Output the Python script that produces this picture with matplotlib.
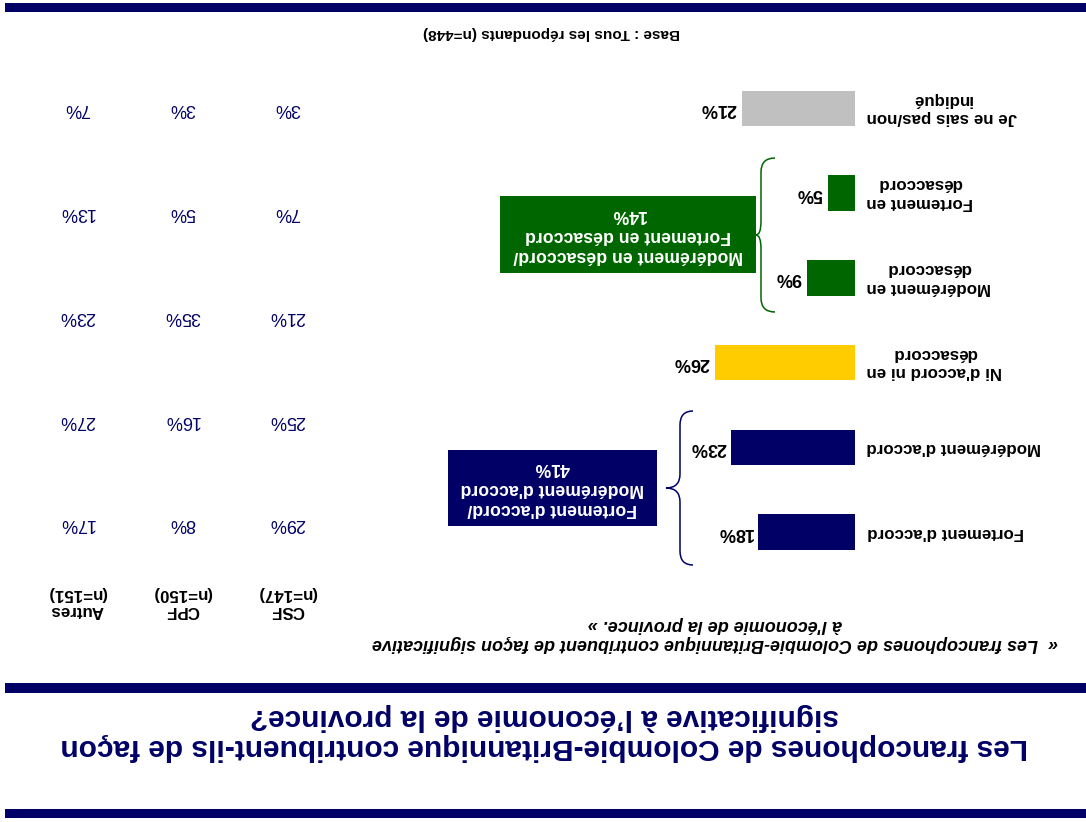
import matplotlib
matplotlib.use("Agg")
import matplotlib.pyplot as plt
from matplotlib.patches import Rectangle, PathPatch
from matplotlib.path import Path

plt.rcParams['font.family'] = ['Liberation Sans', 'DejaVu Sans']

# the slide is stored upside down, so everything is drawn rotated 180 degrees
NAVY = '#000066'
GREEN = '#006600'
YELLOW = '#FFCC00'
GREY = '#C0C0C0'

title = "Les francophones de Colombie-Britannique contribuent-ils de façon\nsignificative à l’économie de la province?"
subtitle = "«  Les francophones de Colombie-Britannique contribuent de façon significative\nà l'économie de la province. »"
base_note = "Base : Tous les répondants (n=448)"

categories = ["Fortement d'accord", "Modérément d'accord", "Ni d'accord ni en\ndésaccord",
              "Modérément en\ndésaccord", "Fortement en\ndésaccord", "Je ne sais pas/non\nindiqué"]
values = [18, 23, 26, 9, 5, 21]
bar_colors = [NAVY, NAVY, YELLOW, GREEN, GREEN, GREY]

groups = ["CSF\n(n=147)", "CPF\n(n=150)", "Autres\n(n=151)"]
csf = [29, 25, 21, 7, 3]
cpf = [8, 16, 35, 5, 3]
autres = [17, 27, 23, 13, 7]

W, H = 1086, 822
fig = plt.figure(figsize=(W / 100, H / 100), dpi=100)

# overlay in pixel coords (y down) for the slide furniture
ov = fig.add_axes([0, 0, 1, 1])
ov.set_xlim(0, W)
ov.set_ylim(H, 0)
ov.axis('off')

# 1. rules
for y0, h in [(3, 9), (683, 10), (809, 9)]:
    ov.add_patch(Rectangle((5, y0), W - 5, h, color=NAVY, lw=0))

# 2. title / subtitle / base
ov.text(544, 732, title, rotation=180, ha='center', va='center', multialignment='center',
        fontsize=21.5, fontweight='bold', color=NAVY, linespacing=1.05)
ov.text(715, 634, subtitle, rotation=180, ha='center', va='center', multialignment='center',
        fontsize=13, fontweight='bold', fontstyle='italic', color='black', linespacing=1.2)
ov.text(552, 33, base_note, rotation=180, ha='center', va='center',
        fontsize=11, fontweight='bold', color='black')

# 3. bars
px = 5.38
x0 = 855
step = 84.7
yc0 = 532
ax = fig.add_axes([(x0 - 30 * px) / W, 1 - (yc0 + step / 2) / H,
                   30 * px / W, 6 * step / H])
ax.set_xlim(30, 0)
ax.set_ylim(-0.5, 5.5)
ax.axis('off')
ypos = list(range(len(values)))
ax.barh(ypos, values, height=0.42, color=bar_colors)
for y, v, c in zip(ypos, values, categories):
    ax.text(v + 1.0, y, f"{v}%", rotation=180, ha='right', va='center',
            fontsize=13, fontweight='bold', color='black', clip_on=False)
    ax.text(-2.2, y, c, rotation=180, ha='left', va='center', multialignment='center',
            fontsize=12.2, fontweight='bold', color='black', linespacing=1.3, clip_on=False)

# 4. braces + summary boxes
def brace(x_line, x_arm, x_tip, y0, y1, color):
    ym = (y0 + y1) / 2
    r = 14
    verts = [(x_arm, y0), (x_line, y0), (x_line, y0 + r),
             (x_line, ym - r), (x_line, ym), (x_tip, ym),
             (x_line, ym), (x_line, ym + r),
             (x_line, y1 - r), (x_line, y1), (x_arm, y1)]
    codes = [Path.MOVETO, Path.CURVE3, Path.CURVE3, Path.LINETO, Path.CURVE3, Path.CURVE3,
             Path.CURVE3, Path.CURVE3, Path.LINETO, Path.CURVE3, Path.CURVE3]
    ov.add_patch(PathPatch(Path(verts, codes), fc='none', ec=color, lw=1.1))

brace(680, 693, 666, 411, 565, NAVY)
brace(761, 775, 756, 158, 312, GREEN)

agree = values[0] + values[1]
disagree = values[3] + values[4]
ov.add_patch(Rectangle((448, 450), 209, 76, color=NAVY, lw=0))
ov.text(552, 488, f"Fortement d'accord/\nModérément d'accord\n{agree}%", rotation=180,
        ha='center', va='center', multialignment='center', fontsize=12.7,
        fontweight='bold', color='white', linespacing=1.3)
ov.add_patch(Rectangle((500, 196), 256, 77, color=GREEN, lw=0))
ov.text(628, 235, f"Modérément en désaccord/\nFortement en désaccord\n{disagree}%", rotation=180,
        ha='center', va='center', multialignment='center', fontsize=12.7,
        fontweight='bold', color='white', linespacing=1.3)

# 5. table by group
col_x = [287, 182, 77]
row_y = [523, 420, 316, 212, 109]
for cx, g, col in zip(col_x, groups, [csf, cpf, autres]):
    ov.text(cx, 602, g, rotation=180, ha='center', va='center', multialignment='center',
            fontsize=12.2, fontweight='bold', color='black', linespacing=1.15)
    for ry, v in zip(row_y, col):
        ov.text(cx, ry, f"{v}%", rotation=180, ha='center', va='center',
                fontsize=13, color=NAVY)

fig.savefig("out.png", dpi=100)
